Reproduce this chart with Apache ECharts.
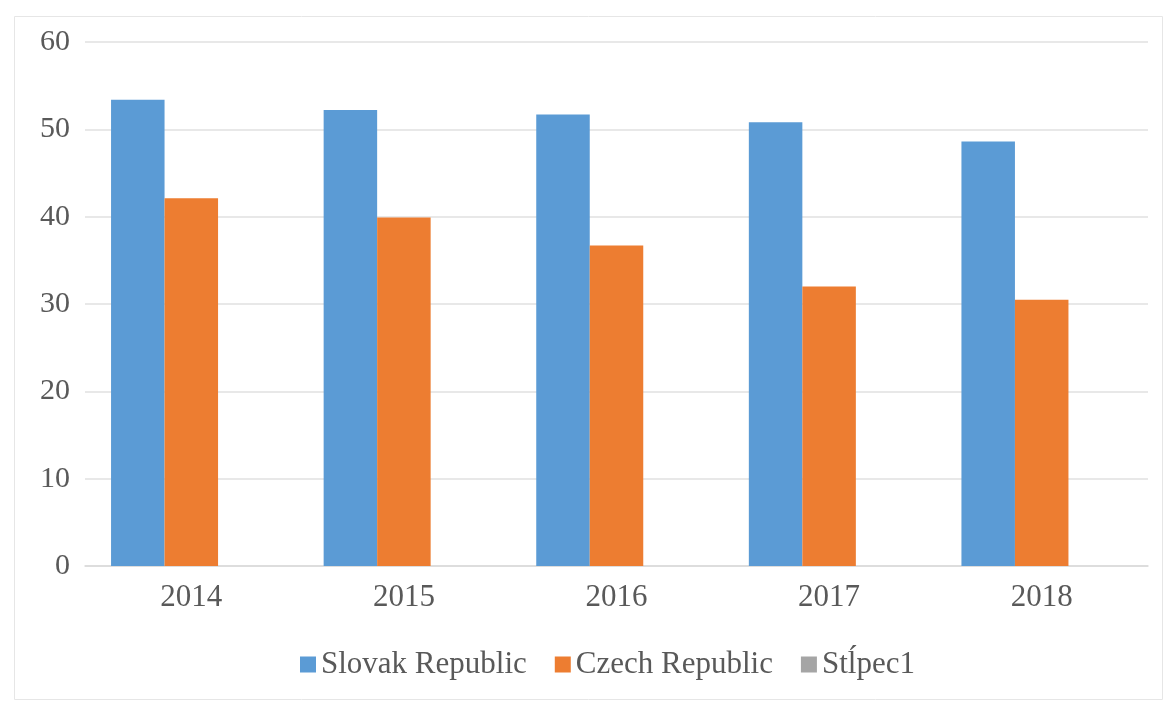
<!DOCTYPE html>
<html>
<head>
<meta charset="utf-8">
<script src="https://cdn.jsdelivr.net/npm/echarts@6/dist/echarts.min.js"></script>
<style>html,body{margin:0;padding:0;background:#fff}#c{width:1165px;height:701px}</style>
</head>
<body>
<div id="c"></div>
<script>
const categories = ['2014', '2015', '2016', '2017', '2018'];
const slovak = [53.4, 52.2, 51.7, 50.8, 48.6];
const czech = [42.1, 39.9, 36.7, 32.0, 30.5];
const stlpec1 = [null, null, null, null, null];
const yTicks = { min: 0, max: 60, interval: 10 };

const font = '"Liberation Serif", "Times New Roman", serif';
const chart = echarts.init(document.getElementById('c'));
chart.setOption({
  animation: false,
  backgroundColor: '#fff',
  graphic: [{
    type: 'rect', left: 12, top: 14, shape: { width: 1148, height: 683 },
    style: { fill: 'none', stroke: '#e6e6e6', lineWidth: 1 }, silent: true
  }],
  grid: { left: 85, right: 17, top: 42, bottom: 135 },
  legend: {
    top: 644, left: 295,
    itemWidth: 16, itemHeight: 16, itemGap: 28,
    icon: 'rect',
    textStyle: { fontFamily: font, fontSize: 31, color: '#595959', padding: [0, 0, 0, 0] },
    data: ['Slovak Republic', 'Czech Republic', 'Stĺpec1']
  },
  xAxis: {
    type: 'category', data: categories,
    axisLine: { lineStyle: { color: '#d9d9d9', width: 1.5 } },
    axisTick: { show: false },
    axisLabel: { fontFamily: font, fontSize: 31, color: '#595959', margin: 16 }
  },
  yAxis: {
    type: 'value', min: yTicks.min, max: yTicks.max, interval: yTicks.interval,
    axisLine: { show: false }, axisTick: { show: false },
    splitLine: { lineStyle: { color: '#e0e0e0', width: 1.5 } },
    axisLabel: { fontFamily: font, fontSize: 30, color: '#595959', margin: 15 }
  },
  series: [
    { name: 'Slovak Republic', type: 'bar', data: slovak, barGap: '0%', barCategoryGap: '24.5%', itemStyle: { color: '#5B9BD5' } },
    { name: 'Czech Republic', type: 'bar', data: czech, itemStyle: { color: '#ED7D31' } },
    { name: 'Stĺpec1', type: 'bar', data: stlpec1, itemStyle: { color: '#A5A5A5' } }
  ]
});
</script>
</body>
</html>
